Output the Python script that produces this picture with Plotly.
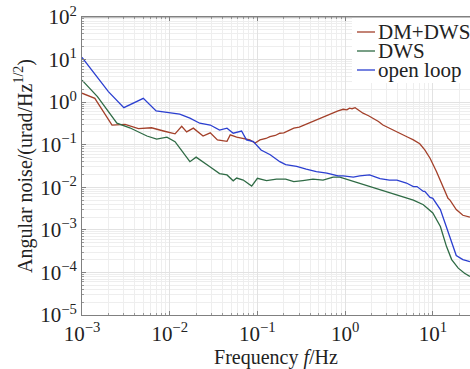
import plotly.graph_objects as go

# DM+DWS
f_dm = [0.001, 0.0014, 0.0022, 0.0031, 0.0044, 0.005, 0.0062, 0.0085, 0.0115, 0.0137, 0.0156, 0.0186,
        0.024, 0.029, 0.035, 0.045, 0.049, 0.058, 0.066, 0.082, 0.094, 0.107, 0.125, 0.139, 0.16, 0.18,
        0.20, 0.23, 0.26, 0.30, 0.34, 0.40, 0.45, 0.52, 0.58, 0.67, 0.75, 0.83, 0.95, 1.05, 1.12, 1.2,
        1.3, 1.45, 1.6, 1.85, 2.1, 2.4, 2.7, 3.1, 3.5, 4.0, 4.6, 5.2, 6.0, 7.1, 8.1, 9.3,
        11.0, 13.0, 14.9, 15.7, 18.5, 22.0, 26.5]
v_dm = [1.62, 1.23, 0.29, 0.30, 0.24, 0.245, 0.25, 0.21, 0.18, 0.27, 0.20, 0.245,
        0.16, 0.19, 0.13, 0.12, 0.17, 0.15, 0.14, 0.13, 0.11, 0.13, 0.14, 0.155, 0.165, 0.186,
        0.19, 0.22, 0.245, 0.26, 0.29, 0.32, 0.36, 0.42, 0.45, 0.52, 0.56, 0.62, 0.68, 0.66, 0.72, 0.70,
        0.74, 0.64, 0.55, 0.48, 0.42, 0.35, 0.29, 0.25, 0.22, 0.19, 0.17, 0.15, 0.13, 0.105,
        0.076, 0.048, 0.0234, 0.0104, 0.0055, 0.005, 0.003, 0.0022, 0.002]

# DWS
f_dws = [0.001, 0.0015, 0.0025, 0.0035, 0.0055, 0.0071, 0.0093, 0.0115, 0.017, 0.020, 0.029, 0.037,
         0.045, 0.053, 0.058, 0.069, 0.086, 0.10, 0.127, 0.165, 0.21, 0.26, 0.33, 0.43, 0.56, 0.73,
         0.87, 1.12, 1.47, 1.9, 2.5, 3.2, 3.9, 5.0, 6.0, 7.8, 10.0, 12.2, 14.3, 16.4, 19.5, 23.0, 26.5]
v_dws = [3.3, 1.35, 0.32, 0.25, 0.16, 0.135, 0.15, 0.118, 0.040, 0.051, 0.030, 0.021,
         0.0195, 0.0142, 0.0165, 0.0148, 0.0107, 0.0163, 0.0144, 0.0155, 0.0155, 0.0136, 0.0144, 0.0155, 0.0148, 0.0174,
         0.0174, 0.0148, 0.0126, 0.0104, 0.0087, 0.0076, 0.0066, 0.0058, 0.0050, 0.0039, 0.0025, 0.0012, 0.00041, 0.0002, 0.000126, 0.000096, 0.00008]

# open loop
f_ol = [0.001, 0.002, 0.003, 0.005, 0.007, 0.01, 0.013, 0.017, 0.022, 0.029, 0.037, 0.045, 0.053,
        0.066, 0.075, 0.09, 0.11, 0.14, 0.18, 0.21, 0.28, 0.36, 0.47, 0.62, 0.83, 0.95, 1.24, 1.47,
        1.9, 2.5, 3.2, 3.9, 5.0, 6.0, 6.6, 7.8, 8.1, 9.3, 10.0, 12.2, 14.3, 16.4, 18.5, 22.0, 26.5]
v_ol = [11.3, 1.77, 0.74, 1.23, 0.62, 0.56, 0.52, 0.42, 0.32, 0.29, 0.22, 0.245, 0.186,
        0.21, 0.13, 0.118, 0.075, 0.058, 0.040, 0.034, 0.031, 0.0266, 0.0234, 0.0214, 0.0186, 0.0186, 0.0174, 0.0186,
        0.0195, 0.0160, 0.0148, 0.0148, 0.0126, 0.0104, 0.0104, 0.0080, 0.0080, 0.0058, 0.0055, 0.003, 0.0012, 0.00049, 0.00025, 0.0002, 0.00018]

names = ["DM+DWS", "DWS", "open loop"]
colors = ["#a3402a", "#2f6b45", "#2b3fd0"]

x_tickvals = [1e-3, 1e-2, 1e-1, 1e0, 1e1]
x_ticktext = ["10<sup>−3</sup>", "10<sup>−2</sup>", "10<sup>−1</sup>", "10<sup>0</sup>", "10<sup>1</sup>"]
y_tickvals = [1e-5, 1e-4, 1e-3, 1e-2, 1e-1, 1e0, 1e1, 1e2]
y_ticktext = ["10<sup>−5</sup>", "10<sup>−4</sup>", "10<sup>−3</sup>", "10<sup>−2</sup>",
              "10<sup>−1</sup>", "10<sup>0</sup>", "10<sup>1</sup>", "10<sup>2</sup>"]

x_minor = [m * d for d in x_tickvals for m in range(2, 10)]
y_minor = [m * d for d in y_tickvals[:-1] for m in range(2, 10)]

FONT = "Liberation Serif"
W, H = 470, 369
ML, MR, MT, MB = 82, 0, 17, 54
PW, PH = W - ML - MR, H - MT - MB


def px(x):
    return (x - ML) / PW


def py(y):
    return (H - MB - y) / PH


fig = go.Figure()
for f, v, n, c in [(f_dm, v_dm, names[0], colors[0]), (f_dws, v_dws, names[1], colors[1]),
                   (f_ol, v_ol, names[2], colors[2])]:
    fig.add_trace(go.Scatter(x=f, y=v, mode="lines", name=n, line=dict(color=c, width=1.3),
                             showlegend=False))

axis_common = dict(
    type="log", showgrid=True, gridcolor="#e2e2e2", gridwidth=1,
    ticks="inside", ticklen=4, tickcolor="#808080", showline=True, linecolor="#808080", linewidth=1,
    tickfont=dict(family=FONT, size=21, color="#222"), zeroline=False,
)
minor_common = dict(ticks="inside", ticklen=2, tickcolor="#999999", showgrid=True,
                    gridcolor="#eeeeee", gridwidth=1, tickmode="array")

shapes = [dict(type="rect", xref="paper", yref="paper", x0=px(352), x1=1.0, y0=py(83), y1=1.0,
               fillcolor="white", line=dict(width=0), layer="above")]
annotations = []
legend_rows = [32, 51, 70]
for n, c, yy in zip(names, colors, legend_rows):
    shapes.append(dict(type="line", xref="paper", yref="paper", x0=px(357), x1=px(375),
                       y0=py(yy), y1=py(yy), line=dict(color=c, width=1.3), layer="above"))
    annotations.append(dict(text=n, xref="paper", yref="paper", x=px(376), y=py(yy),
                            xanchor="left", yanchor="middle", showarrow=False,
                            font=dict(family=FONT, size=21, color="#222")))
# top border line of the axes box
shapes.append(dict(type="line", xref="paper", yref="paper", x0=0, x1=1, y0=1, y1=1,
                   line=dict(color="#808080", width=1), layer="above"))

fig.update_layout(
    width=W, height=H, margin=dict(l=ML, r=MR, t=MT, b=MB),
    paper_bgcolor="white", plot_bgcolor="white",
    font=dict(family=FONT, size=19, color="#222"),
    xaxis=dict(axis_common, range=[-3, 1.424], tickvals=x_tickvals, ticktext=x_ticktext, mirror="ticks",
               minor=dict(minor_common, tickvals=x_minor),
               title=dict(text="Frequency <i>f</i>/Hz", font=dict(family=FONT, size=20), standoff=4)),
    yaxis=dict(axis_common, range=[-5, 2], tickvals=y_tickvals, ticktext=y_ticktext,
               minor=dict(minor_common, tickvals=y_minor),
               title=dict(text="Angular noise/(urad/Hz<sup>1/2</sup>)", font=dict(family=FONT, size=20), standoff=2)),
    shapes=shapes, annotations=annotations,
    showlegend=False,
)

fig.write_html("out.html")
